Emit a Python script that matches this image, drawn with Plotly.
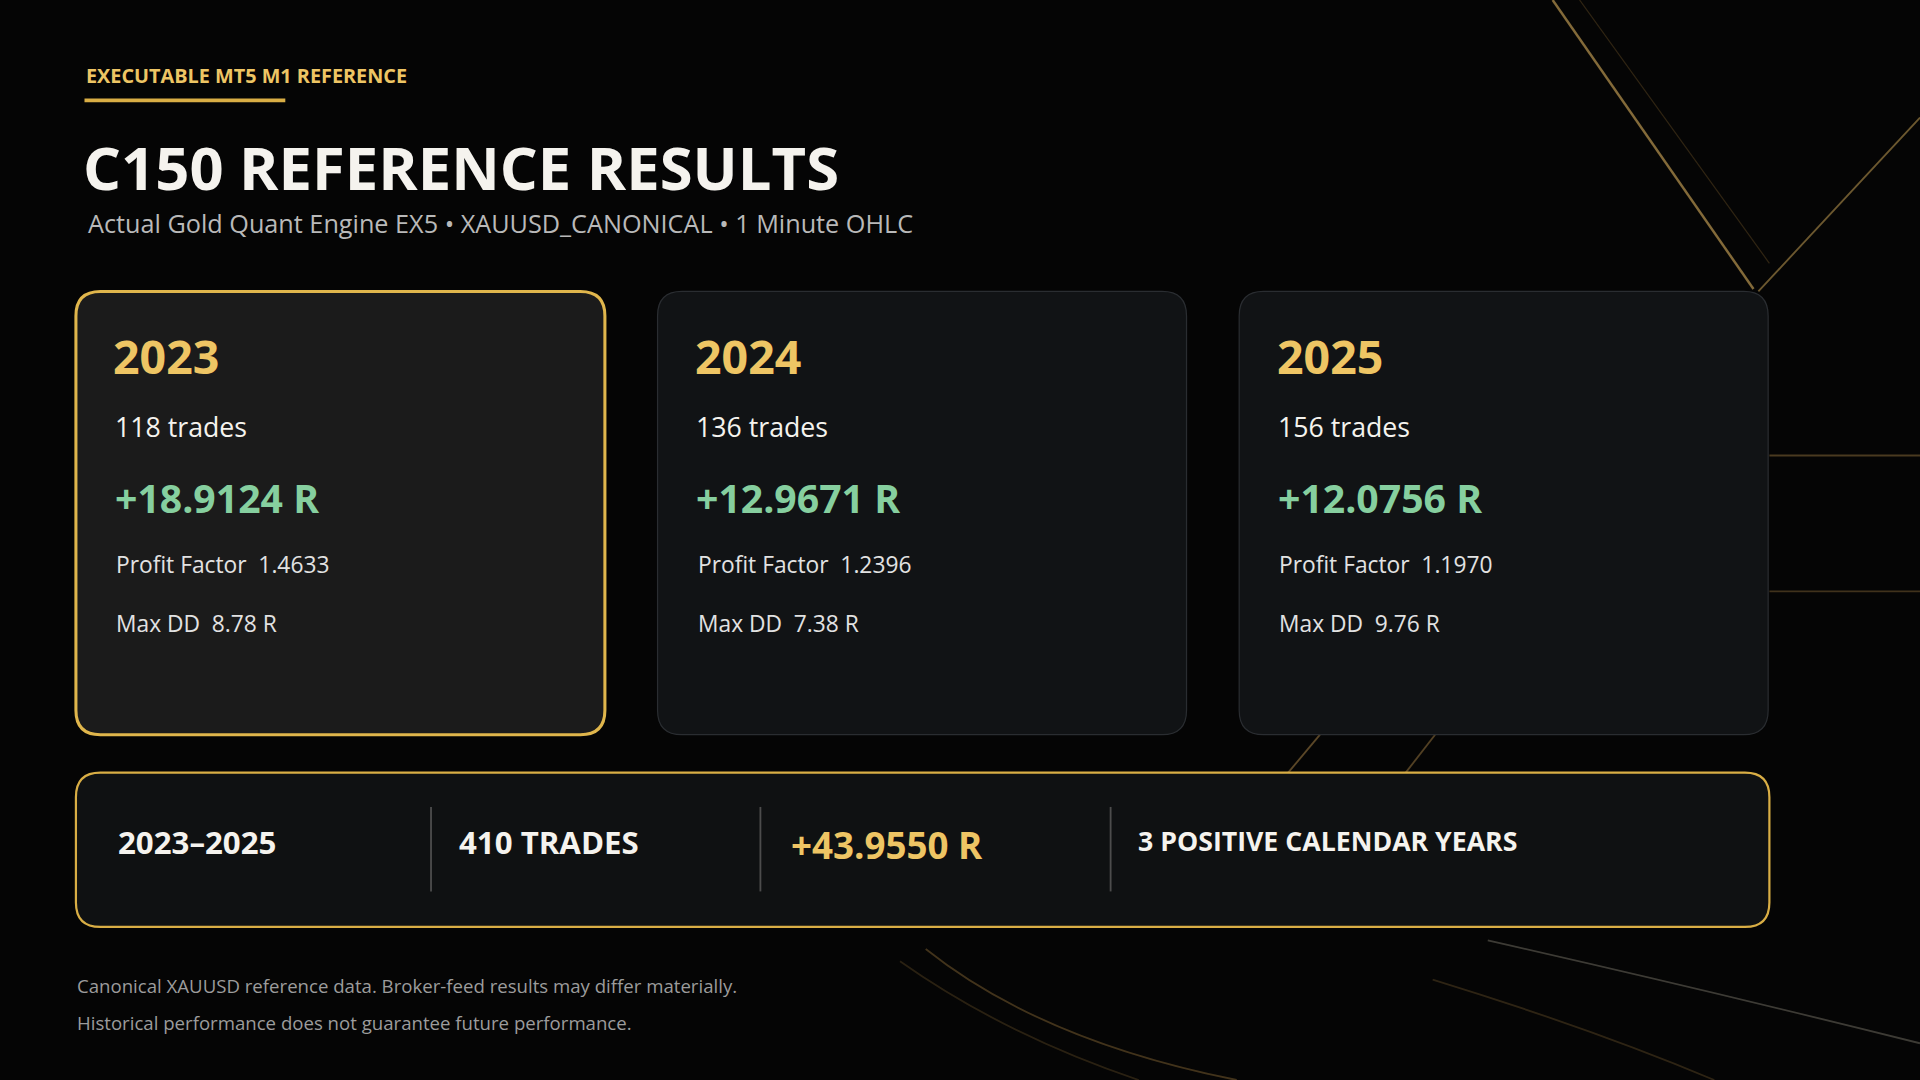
import plotly.graph_objects as go

# reference was laid out on a 1568 x 882 canvas, page is 1920 x 1080
W, H = 1568, 882
S = 1920 / W

years = ["2023", "2024", "2025"]
trades = [118, 136, 156]
net_r = [18.9124, 12.9671, 12.0756]
profit_factor = [1.4633, 1.2396, 1.1970]
max_dd = [8.78, 7.38, 9.76]

period = "2023–2025"
total_trades = 410
total_r = 43.9550
positive_years = 3

tag = "EXECUTABLE MT5 M1 REFERENCE"
title = "C150 REFERENCE RESULTS"
subtitle = "Actual Gold Quant Engine EX5 • XAUUSD_CANONICAL • 1 Minute OHLC"
footer = ["Canonical XAUUSD reference data. Broker-feed results may differ materially.",
          "Historical performance does not guarantee future performance."]

FONT = "Open Sans"
GOLD = "#EEC564"
GREEN = "#86CF9F"
WHITE = "#F5F3EE"


def rounded(x0, y0, x1, y1, r):
    return (f"M {x0 + r},{y0} L {x1 - r},{y0} Q {x1},{y0} {x1},{y0 + r} "
            f"L {x1},{y1 - r} Q {x1},{y1} {x1 - r},{y1} L {x0 + r},{y1} "
            f"Q {x0},{y1} {x0},{y1 - r} L {x0},{y0 + r} Q {x0},{y0} {x0 + r},{y0} Z")


def label(x, y, text, size, color, bold=False):
    fig.add_annotation(x=x, y=y, text=f"<b>{text}</b>" if bold else text,
                       xref="x", yref="y", xanchor="left", yanchor="middle",
                       showarrow=False, font=dict(family=FONT, size=size * S, color=color))


fig = go.Figure()

# background decoration: thin gold streaks on the right side
streaks = [
    (1268, 0, 1432, 236, "rgba(235,190,100,0.55)", 2),
    (1290, 0, 1445, 215, "rgba(200,150,70,0.22)", 1),
    (1568, 96, 1436, 238, "rgba(235,190,100,0.45)", 1.5),
    (1445, 372, 1568, 372, "rgba(220,170,90,0.32)", 1.5),
    (1445, 483, 1568, 483, "rgba(220,170,90,0.28)", 1.5),
    (1052, 631, 1078, 600, "rgba(220,170,90,0.40)", 1.5),
    (1148, 631, 1172, 600, "rgba(220,170,90,0.36)", 1.5),
]
for x0, y0, x1, y1, c, w in streaks:
    fig.add_shape(type="line", x0=x0, y0=y0, x1=x1, y1=y1, xref="x", yref="y",
                  line=dict(color=c, width=w * S), layer="below")
curves = [
    ("M 756,775 Q 850,850 1010,882", "rgba(210,160,80,0.30)"),
    ("M 735,785 Q 820,845 930,882", "rgba(210,160,80,0.18)"),
    ("M 1215,768 Q 1400,810 1568,852", "rgba(210,200,180,0.28)"),
    ("M 1170,800 Q 1300,840 1400,882", "rgba(210,160,80,0.20)"),
]
for p, c in curves:
    fig.add_shape(type="path", xref="x", yref="y", layer="below", path=p,
                  line=dict(color=c, width=1.5 * S))

# tag line and title block
label(69, 62, tag, 16.2, GOLD, bold=True)
fig.add_shape(type="line", x0=69, x1=233, y0=82, y1=82, xref="x", yref="y",
              line=dict(color="#D9AE45", width=3 * S))
label(66, 136, title, 48.8, WHITE, bold=True)
label(70, 182, subtitle, 20.6, "#B9B9B9")

# yearly cards
card_x = [62, 537, 1012]
card_w = 432
for i, yr in enumerate(years):
    x0 = card_x[i]
    highlight = i == 0
    fig.add_shape(type="path", path=rounded(x0, 238, x0 + card_w, 600, 20),
                  xref="x", yref="y",
                  fillcolor="#1B1B1B" if highlight else "#111315",
                  line=dict(color="#E0B64C" if highlight else "#2A2D31",
                            width=(2.5 if highlight else 1) * S))
    tx = x0 + 30
    label(tx - 1, 291, yr, 38, GOLD, bold=True)
    label(tx, 348, f"{trades[i]} trades", 21.8, WHITE)
    label(tx, 406, f"+{net_r[i]:.4f} R", 32, GREEN, bold=True)
    label(tx + 1, 461, f"Profit Factor&nbsp;&nbsp;{profit_factor[i]:.4f}", 18.6, "#E2E2E2")
    label(tx + 1, 509, f"Max DD&nbsp;&nbsp;{max_dd[i]:.2f} R", 18.6, "#E2E2E2")

# summary bar
fig.add_shape(type="path", path=rounded(62, 631, 1445, 757, 20), xref="x", yref="y",
              fillcolor="#0F1112", line=dict(color="#D9AE45", width=1.8 * S))
for dx in [352, 621, 907]:
    fig.add_shape(type="line", x0=dx, x1=dx, y0=659, y1=728, xref="x", yref="y",
                  line=dict(color="#4C4C4C", width=1.5 * S))
label(95, 688, period, 25.5, WHITE, bold=True)
label(373, 688, f"{total_trades} TRADES", 25.5, WHITE, bold=True)
label(644, 690, f"+{total_r:.4f} R", 30, GOLD, bold=True)
label(928, 686, f"{positive_years} POSITIVE CALENDAR YEARS", 21.8, WHITE, bold=True)

# disclaimer
label(61, 805, footer[0], 15.2, "#9C9C9C")
label(61, 835, footer[1], 15.2, "#9C9C9C")

fig.update_xaxes(range=[0, W], visible=False, fixedrange=True)
fig.update_yaxes(range=[H, 0], visible=False, fixedrange=True)
fig.update_layout(width=1920, height=1080, margin=dict(l=0, r=0, t=0, b=0),
                  paper_bgcolor="#050505", plot_bgcolor="#050505", showlegend=False)

fig.write_html("out.html", config={"displayModeBar": False},
               post_script="document.body.style.margin='0';"
                           "document.body.style.background='#050505';")
